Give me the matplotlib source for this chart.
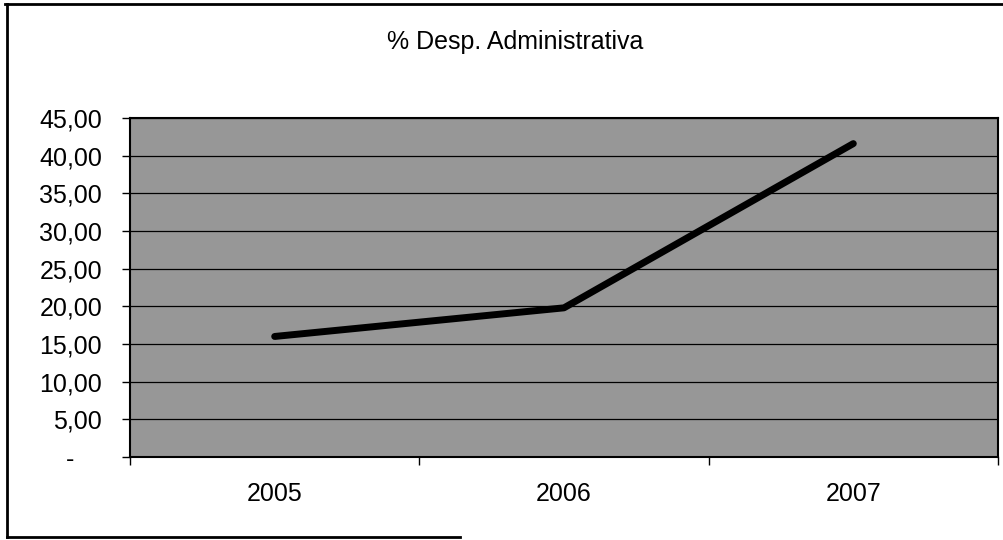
import matplotlib.pyplot as plt
import matplotlib.lines as mlines
import numpy as np

plt.rcParams['font.family'] = ['Liberation Sans', 'DejaVu Sans']

years = ['2005', '2006', '2007']
desp_adm = [16.0, 19.8, 41.6]
y_ticks = [0, 5, 10, 15, 20, 25, 30, 35, 40, 45]
y_labels = ['-    ', '5,00', '10,00', '15,00', '20,00', '25,00',
            '30,00', '35,00', '40,00', '45,00']

fig = plt.figure(figsize=(10.04, 5.40), dpi=100)
ax = fig.add_axes([0.1295, 0.1537, 0.8645, 0.6278])

x = np.arange(len(years))
ax.set_facecolor('#979797')
for v in y_ticks[1:]:
    ax.axhline(v, color='black', lw=0.9, zorder=1)
ax.plot(x, desp_adm, color='black', lw=5, solid_capstyle='round', zorder=3)

ax.set_xlim(-0.5, len(years) - 0.5)
ax.set_ylim(0, 45)
ax.set_yticks(y_ticks)
ax.set_yticklabels(y_labels)
ax.set_xticks(x)
ax.set_xticklabels(years)
ax.set_xticks(np.arange(-0.5, len(years), 1), minor=True)
ax.tick_params(axis='y', direction='out', length=6, width=1, pad=14, labelsize=18)
ax.tick_params(axis='x', which='major', length=0, pad=18, labelsize=18)
ax.tick_params(axis='x', which='minor', direction='out', length=6, width=1)
for s in ax.spines.values():
    s.set_color('black')
    s.set_linewidth(1.5)

fig.text(0.513, 0.923, '% Desp. Administrativa', ha='center', va='center', fontsize=18)

# outer chart border (partly cut off in the scan)
W, H = 1004.0, 540.0
fig.add_artist(mlines.Line2D([5 / W, 1.0], [1 - 4 / H, 1 - 4 / H], color='black', lw=2))
fig.add_artist(mlines.Line2D([7 / W, 7 / W], [1 - 4 / H, 1 - 537 / H], color='black', lw=2))
fig.add_artist(mlines.Line2D([7 / W, 460 / W], [1 - 537 / H, 1 - 537 / H], color='black', lw=2))

fig.savefig('out.png', dpi=100)
